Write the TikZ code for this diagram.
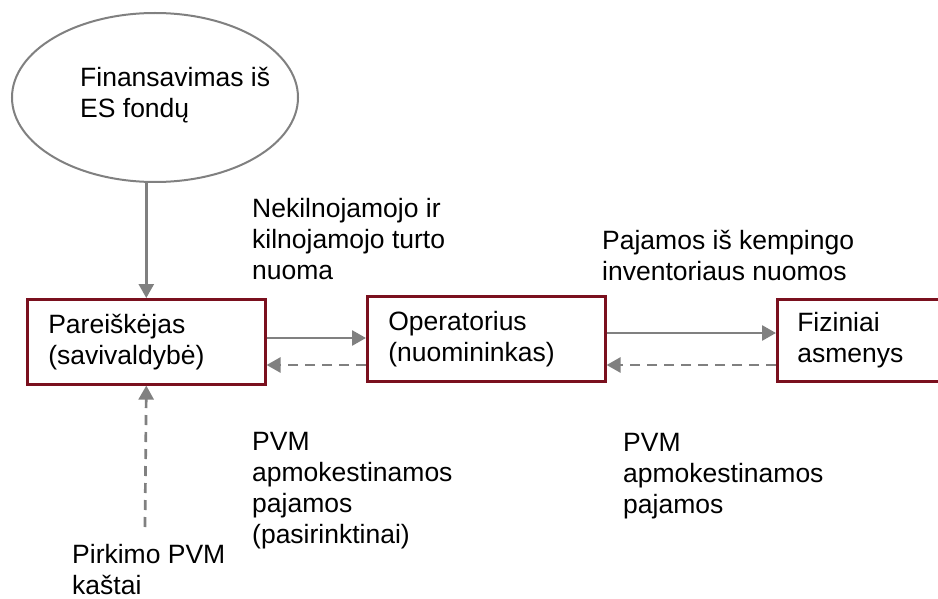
\documentclass[tikz,border=0pt]{standalone}
\usepackage{fontspec}
\setmainfont{Liberation Sans}
\usetikzlibrary{arrows.meta,shapes.geometric}
\definecolor{boxred}{RGB}{122,16,30}
\definecolor{flowgray}{RGB}{128,128,128}
\tikzset{
  txt/.style={font=\fontsize{26.5}{31}\selectfont, align=left, inner sep=0pt},
  % multi-line labels are placed by the baseline of their last line
  label/.style={txt, anchor=base west},
  fundshape/.style={ellipse, draw=flowgray, line width=2pt, inner sep=0pt,
    minimum width=286pt, minimum height=169pt},
  party/.style={txt, rectangle, draw=boxred, line width=2.6pt, anchor=north west,
    text width=196pt, inner xsep=21pt, minimum height=85pt},
  flow/.style={draw=flowgray, line width=2.7pt,
    -{Triangle[length=14pt,width=15pt]}},
  flowdash/.style={flow, dash pattern=on 10pt off 7pt},
}
\begin{document}
\begin{tikzpicture}[x=1pt,y=-1pt]
  \clip (0,0) rectangle (938,599);
  \fill[white] (0,0) rectangle (938,599);

  % funding source
  \node[fundshape] (fund) at (155,97.5) {};
  \node[label] (fundtxt) at (80,118) {Finansavimas iš\\ES fondų};

  % parties
  \node[party] (pareisk) at (26,298) {Pareiškėjas\\(savivaldybė)};
  \node[party] (oper) at (366,295) {Operatorius\\(nuomininkas)};
  \node[party, text width=190pt, inner xsep=20pt, minimum height=82pt] (fiz) at (776,298) {Fiziniai\\asmenys};

  % flow labels
  \node[label] (rentlbl) at (252,279) {Nekilnojamojo ir\\kilnojamojo turto\\nuoma};
  \node[label] (camplbl) at (602,280) {Pajamos iš kempingo\\inventoriaus nuomos};
  \node[label] (vatopt) at (252,543) {PVM\\apmokestinamos\\pajamos\\(pasirinktinai)};
  \node[label] (vatinc) at (623,513) {PVM\\apmokestinamos\\pajamos};
  \node[label] (purch) at (72,594) {Pirkimo PVM\\kaštai};

  % connectors
  \coordinate (costsrc) at (145,527);
  \draw[flow] (fund.south -| pareisk.north) -- (pareisk.north);
  \draw[flowdash] (costsrc) -- (pareisk.south);
  \draw[flow] (pareisk.east |- 0,338) -- (oper.west |- 0,338);
  \draw[flowdash] (oper.west |- 0,365) -- (pareisk.east |- 0,365);
  \draw[flow] (oper.east |- 0,333) -- (fiz.west |- 0,333);
  \draw[flowdash] (fiz.west |- 0,365) -- (oper.east |- 0,365);
\end{tikzpicture}
\end{document}
